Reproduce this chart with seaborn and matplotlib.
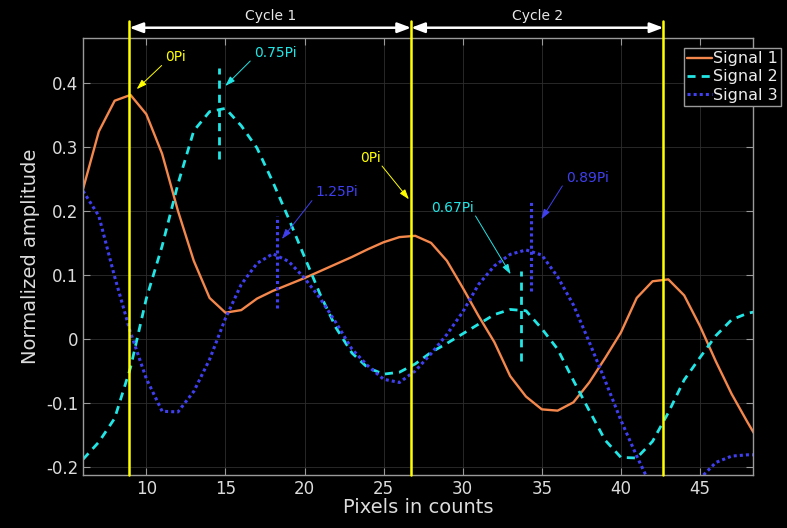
import matplotlib
matplotlib.use("Agg")
from matplotlib import pyplot as plt
import numpy as np
import pandas as pd
import seaborn as sns

# pixel positions (counts) and the three normalized signals
pixels = list(range(6, 50))
signal_1 = [0.234, 0.324, 0.372, 0.381, 0.351, 0.289, 0.200, 0.122, 0.064, 0.041,
            0.045, 0.063, 0.075, 0.085, 0.095, 0.106, 0.117, 0.128, 0.140, 0.151,
            0.159, 0.161, 0.150, 0.122, 0.080, 0.036, -0.005, -0.058, -0.090, -0.110,
            -0.112, -0.099, -0.068, -0.030, 0.010, 0.064, 0.090, 0.093, 0.068, 0.020,
            -0.035, -0.086, -0.130, -0.172]
signal_2 = [-0.188, -0.161, -0.124, -0.045, 0.063, 0.145, 0.242, 0.325, 0.355, 0.360,
            0.333, 0.298, 0.245, 0.188, 0.128, 0.069, 0.017, -0.022, -0.045, -0.055,
            -0.052, -0.039, -0.021, -0.007, 0.008, 0.023, 0.038, 0.046, 0.044, 0.016,
            -0.016, -0.065, -0.112, -0.158, -0.185, -0.186, -0.160, -0.115, -0.064, -0.029,
            0.005, 0.030, 0.040, 0.045]
signal_3 = [0.231, 0.192, 0.097, 0.010, -0.062, -0.113, -0.114, -0.082, -0.032, 0.032,
            0.085, 0.118, 0.133, 0.121, 0.095, 0.063, 0.025, -0.016, -0.042, -0.063,
            -0.068, -0.050, -0.023, 0.007, 0.042, 0.085, 0.114, 0.132, 0.139, 0.131,
            0.097, 0.053, -0.005, -0.065, -0.127, -0.183, -0.235, -0.265, -0.262, -0.218,
            -0.193, -0.183, -0.181, -0.181]

series_names = ["Signal 1", "Signal 2", "Signal 3"]
series_colors = ["#f4874b", "#22e6e6", "#3f3ff0"]

# cycle boundaries (peaks of signal 1)
cycle_edges = [8.93, 26.74, 42.69]
cycle_labels = ["Cycle 1", "Cycle 2"]

# phase markers: (x, y low, y high, series index)
phase_marks = [(14.57, 0.281, 0.423, 1), (18.26, 0.049, 0.192, 2),
               (33.66, -0.034, 0.106, 1), (34.33, 0.075, 0.217, 2)]
# phase labels: text, colour index (-1 yellow), text pos, arrow start, arrow tip
phase_notes = [("0Pi", -1, (11.82, 0.441), (10.97, 0.427), (9.39, 0.390)),
               ("0.75Pi", 1, (18.17, 0.447), (16.57, 0.434), (14.99, 0.395)),
               ("1.25Pi", 2, (22.05, 0.230), (20.47, 0.216), (18.57, 0.156)),
               ("0Pi", -1, (24.16, 0.282), (24.90, 0.270), (26.60, 0.218)),
               ("0.67Pi", 1, (29.33, 0.205), (30.81, 0.192), (33.03, 0.101)),
               ("0.89Pi", 2, (37.88, 0.252), (36.30, 0.239), (34.97, 0.187))]

df = pd.DataFrame({"Pixels": pixels * 3,
                   "Amplitude": signal_1 + signal_2 + signal_3,
                   "Signal": np.repeat(series_names, len(pixels))})

sns.set_style("dark")
plt.rcParams.update({"font.family": ["DejaVu Sans"],
                     "figure.facecolor": "black", "axes.facecolor": "black",
                     "axes.edgecolor": "#9a9a9a", "axes.linewidth": 1.0,
                     "xtick.color": "#9a9a9a", "ytick.color": "#9a9a9a",
                     "xtick.labelcolor": "#dcdcdc", "ytick.labelcolor": "#dcdcdc",
                     "xtick.direction": "in", "ytick.direction": "in",
                     "xtick.top": True, "ytick.right": True,
                     "xtick.bottom": True, "ytick.left": True,
                     "xtick.major.size": 5, "ytick.major.size": 5,
                     "axes.grid": True, "grid.color": "#2e2e2e", "grid.linewidth": 0.6})

fig = plt.figure(figsize=(7.87, 5.28), dpi=100)
ax = fig.add_axes([0.1055, 0.1004, 0.8513, 0.8277])

styles = ["-", (0, (2.9, 2.2)), (0, (1, 1.0))]
widths = [1.7, 2.0, 2.2]
for name, col, ls, lw in zip(series_names, series_colors, styles, widths):
    sns.lineplot(data=df[df["Signal"] == name], x="Pixels", y="Amplitude",
                 color=col, linestyle=ls, linewidth=lw, label=name, ax=ax)

for x, y0, y1, k in phase_marks:
    ax.plot([x, x], [y0, y1], color=series_colors[k], linestyle=styles[k], linewidth=widths[k])

ax.set_xlim(6, 48.35)
ax.set_ylim(-0.2125, 0.47)
ax.set_xticks([10, 15, 20, 25, 30, 35, 40, 45])
ax.set_yticks([-0.2, -0.1, 0, 0.1, 0.2, 0.3, 0.4])
ax.set_yticklabels(["-0.2", "-0.1", "0", "0.1", "0.2", "0.3", "0.4"])
ax.tick_params(labelsize=12)
ax.set_xlabel("Pixels in counts", fontsize=14, color="#dcdcdc", labelpad=0)
ax.set_ylabel("Normalized amplitude", fontsize=14, color="#dcdcdc", labelpad=4)

for x in cycle_edges:
    ax.plot([x, x], [-0.2125, 0.497], color="#ffff00", linewidth=1.8, clip_on=False, zorder=5)

for i, lab in enumerate(cycle_labels):
    a, b = cycle_edges[i], cycle_edges[i + 1]
    ax.annotate("", xy=(b, 0.486), xytext=(a, 0.486), annotation_clip=False,
                arrowprops=dict(arrowstyle="<|-|>,head_length=0.8,head_width=0.3",
                                color="white", lw=1.8, shrinkA=0, shrinkB=0))
    ax.text((a + b) / 2, 0.505, lab, color="#e8e8e8", fontsize=10,
            ha="center", va="center", clip_on=False)

for txt, k, tpos, start, tip in phase_notes:
    col = "#ffff00" if k < 0 else series_colors[k]
    ax.text(tpos[0], tpos[1], txt, color=col, fontsize=10, ha="center", va="center")
    ax.annotate("", xy=tip, xytext=start,
                arrowprops=dict(arrowstyle="-|>,head_length=0.6,head_width=0.2",
                                color=col, lw=0.7, shrinkA=0, shrinkB=0))

leg = ax.legend(loc="upper right", bbox_to_anchor=(1.042, 0.977), fontsize=11.5,
                facecolor="black", edgecolor="#9a9a9a", framealpha=1, fancybox=False,
                handlelength=1.6, handletextpad=0.05, labelspacing=0.2,
                borderpad=0.2, borderaxespad=0)
for t in leg.get_texts():
    t.set_color("#ececec")

plt.savefig("out.png", dpi=100, facecolor="black")
